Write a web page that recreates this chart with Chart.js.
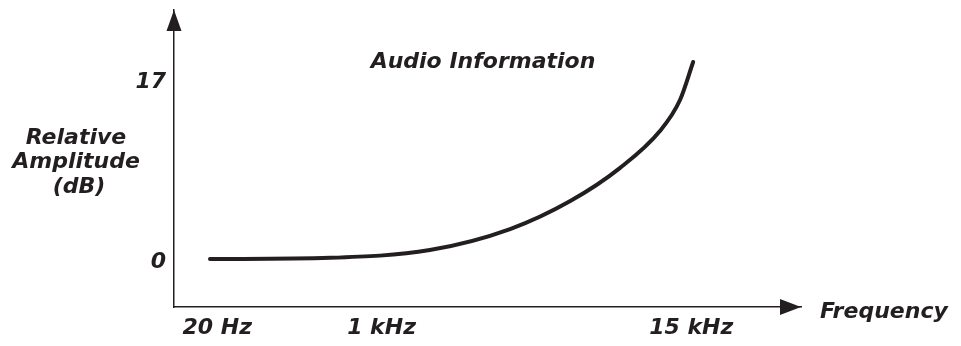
<!DOCTYPE html>
<html>
<head>
<meta charset="utf-8">
<script src="https://cdn.jsdelivr.net/npm/chart.js@4/dist/chart.umd.min.js"></script>
<style>
  html, body { margin: 0; padding: 0; background: #fff; }
  #wrap { width: 961px; height: 346px; position: relative; }
</style>
</head>
<body>
<div id="wrap"><canvas id="chart"></canvas></div>
<script>
(function(){
    // frequency position along the axis (0..100) and relative amplitude in dB
    const freqPos = [5.74, 24.9, 40.8, 53.6, 63.2, 71.1, 77.5, 80.7, 82.8];
    const ampDb   = [0, 0.12, 0.85, 2.83, 5.48, 8.59, 12.09, 15.02, 18.61];

    const xTickPos    = [6.9, 33.1, 82.5];
    const xTickLabels = ['20 Hz', '1 kHz', '15 kHz'];
    const yTickVals   = [0, 17];

    const ink = '#231f20';
    const font = { family: 'DejaVu Sans', size: 22, style: 'italic', weight: 'bold' };
    const fontStr = 'italic bold 22px "DejaVu Sans"';

    // arrows on both axes plus the free-standing captions
    const decorations = {
        id: 'decorations',
        afterDraw(chart) {
            const c = chart.ctx;
            const a = chart.chartArea;
            c.save();
            c.fillStyle = ink;
            c.beginPath();
            c.moveTo(a.left, a.top);
            c.lineTo(a.left - 7.5, a.top + 21);
            c.lineTo(a.left + 7.5, a.top + 21);
            c.closePath();
            c.fill();
            c.beginPath();
            c.moveTo(a.right, a.bottom);
            c.lineTo(a.right - 21, a.bottom - 8);
            c.lineTo(a.right - 21, a.bottom + 8);
            c.closePath();
            c.fill();

            c.font = fontStr;
            c.textBaseline = 'alphabetic';
            c.textAlign = 'center';
            c.fillText('Audio Information', 483, 68);
            c.fillText('Relative', 76, 144);
            c.fillText('Amplitude', 76, 168);
            c.fillText('(dB)', 79, 193);
            c.textAlign = 'left';
            c.fillText('Frequency', 820, 318);
            c.restore();
        }
    };

    new Chart(document.getElementById('chart'), {
        type: 'line',
        data: {
            datasets: [{
                data: freqPos.map((x, i) => ({ x: x, y: ampDb[i] })),
                borderColor: ink,
                borderWidth: 4,
                borderCapStyle: 'round',
                pointRadius: 0,
                cubicInterpolationMode: 'monotone',
                fill: false
            }]
        },
        options: {
            responsive: true,
            maintainAspectRatio: false,
            animation: false,
            layout: { padding: { top: 10, right: 160, left: 0, bottom: 0 } },
            plugins: { legend: { display: false }, tooltip: { enabled: false } },
            scales: {
                x: {
                    type: 'linear',
                    min: 0,
                    max: 100,
                    afterFit(scale) {
                        scale.height = 39;
                        scale.paddingLeft = 0;
                        scale.paddingRight = 0;
                    },
                    afterBuildTicks(scale) { scale.ticks = xTickPos.map(v => ({ value: v })); },
                    grid: { display: false, drawTicks: false },
                    border: { display: true, color: ink, width: 1.5 },
                    ticks: {
                        color: ink,
                        font: font,
                        padding: 8,
                        maxRotation: 0,
                        autoSkip: false,
                        callback: (v, i) => xTickLabels[i]
                    }
                },
                y: {
                    type: 'linear',
                    min: -4.53,
                    max: 23.52,
                    afterFit(scale) {
                        scale.width = 174;
                        scale.paddingTop = 0;
                        scale.paddingBottom = 0;
                    },
                    afterBuildTicks(scale) { scale.ticks = yTickVals.map(v => ({ value: v })); },
                    grid: { display: false, drawTicks: false },
                    border: { display: true, color: ink, width: 1.5 },
                    ticks: {
                        color: ink,
                        font: font,
                        padding: 8,
                        labelOffset: 3,
                        autoSkip: false
                    }
                }
            }
        },
        plugins: [decorations]
    });
})();
</script>
</body>
</html>
